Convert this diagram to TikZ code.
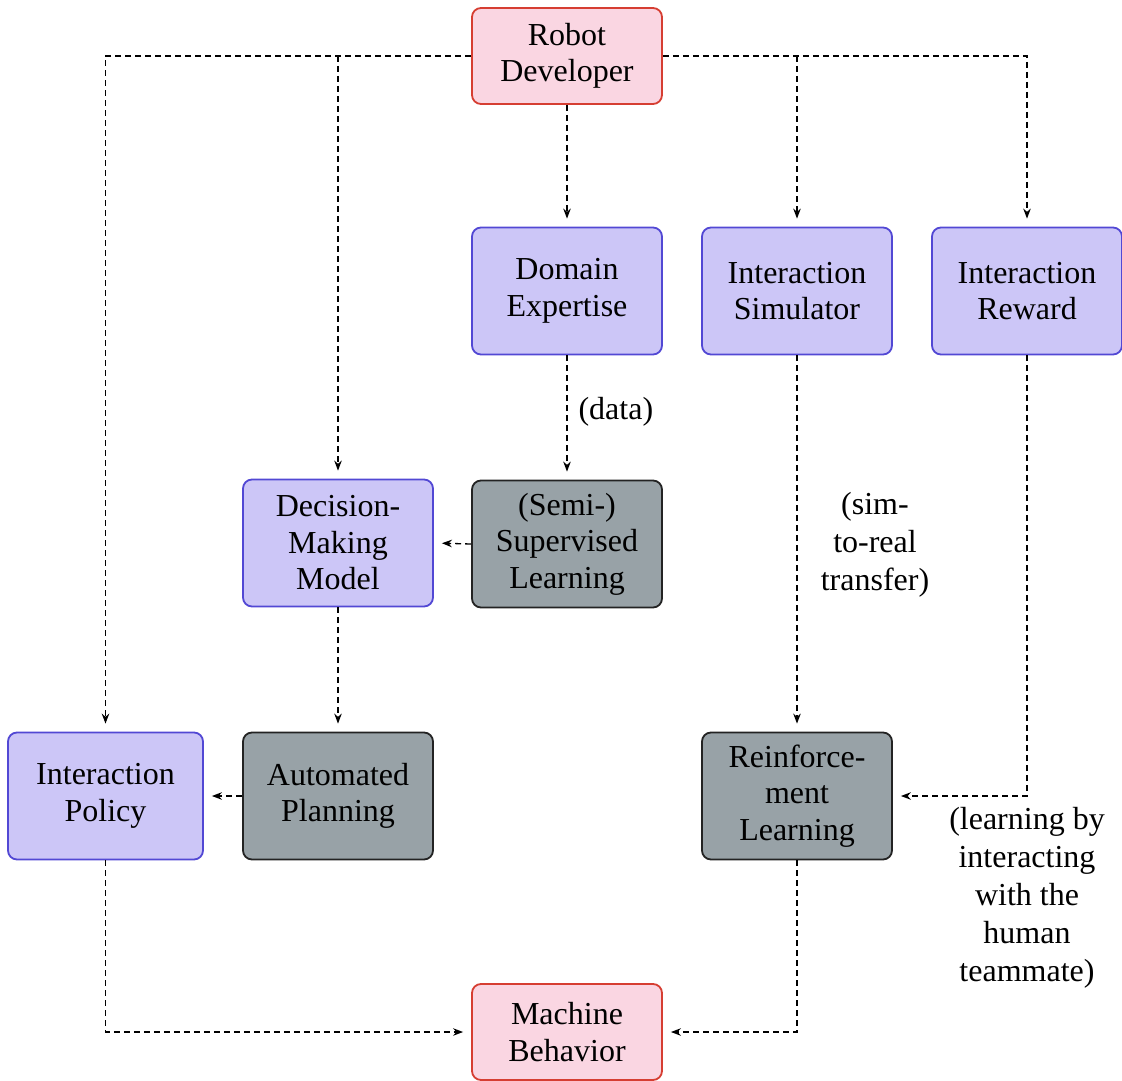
\documentclass[tikz,border=0pt]{standalone}
\usepackage{fontspec}
\setmainfont{Liberation Serif}
\usetikzlibrary{arrows.meta}
\definecolor{redfill}{RGB}{250,214,226}
\definecolor{redline}{RGB}{214,62,50}
\definecolor{bluefill}{RGB}{204,198,247}
\definecolor{blueline}{RGB}{82,72,212}
\definecolor{grayfill}{RGB}{152,162,167}
\definecolor{grayline}{RGB}{35,35,35}
\begin{document}
\begin{tikzpicture}[x=1pt,y=-1pt,
  box/.style={rounded corners=9pt, line width=1.8pt, minimum width=190pt,
    minimum height=127pt, align=center, inner sep=0pt,
    font=\fontsize{32}{36.5}\selectfont},
  endbox/.style={box, fill=redfill, draw=redline, minimum height=96pt},
  infobox/.style={box, fill=bluefill, draw=blueline},
  learnbox/.style={box, fill=grayfill, draw=grayline},
  trunk/.style={line width=1.3pt, dash pattern=on 6pt off 4pt},
  link/.style={trunk, -{Stealth[length=10pt,width=7.5pt]}, shorten >=8pt},
  note/.style={align=center, font=\fontsize{32}{38}\selectfont}
]
\useasboundingbox (0,0) rectangle (1122,1081);

% source and sink
\node[endbox] (rd) at (567,56) {Robot\\Developer};
\node[endbox] (mb) at (567,1032) {Machine\\Behavior};

% knowledge inputs
\node[infobox] (de) at (567,291) {Domain\\Expertise};
\node[infobox] (sim) at (797,291) {Interaction\\Simulator};
\node[infobox] (rw) at (1027,291) {Interaction\\Reward};
\node[infobox] (dm) at (338,543) {Decision-\\Making\\Model};
\node[infobox, minimum width=195pt] (ip) at (105.5,796) {Interaction\\Policy};

% learning / planning steps
\node[learnbox] (sl) at (567,544) {(Semi-)\\Supervised\\Learning};
\node[learnbox] (ap) at (338,796) {Automated\\Planning};
\node[learnbox] (rl) at (797,796) {Reinforce-\\ment\\Learning};

% developer fan-out
\draw[link] (rd.west) -| (ip.north);
\draw[link] (rd.west -| dm.north) -- (dm.north);
\draw[link] (rd.east) -| (rw.north);
\draw[link] (rd.east -| sim.north) -- (sim.north);
\draw[link] (rd.south) -- (de.north);

% learning paths
\draw[link] (de.south) -- (sl.north);
\draw[link] (sl.west) -- (dm.east);
\draw[link] (dm.south) -- (ap.north);
\draw[link] (ap.west) -- (ip.east);
\draw[link] (sim.south) -- (rl.north);
\draw[link] (rw.south) |- (rl.east);

% into behaviour
\draw[link] (ip.south) |- (mb.west);
\draw[link] (rl.south) |- (mb.east);

% edge notes
\node[note, anchor=west] (ndata) at (575,412) {(data)};
\node[note] (nsim) at (875,545) {(sim-\\to-real\\transfer)};
\node[note] (nrw) at (1027,898) {(learning by\\interacting\\with the\\human\\teammate)};
\end{tikzpicture}
\end{document}
